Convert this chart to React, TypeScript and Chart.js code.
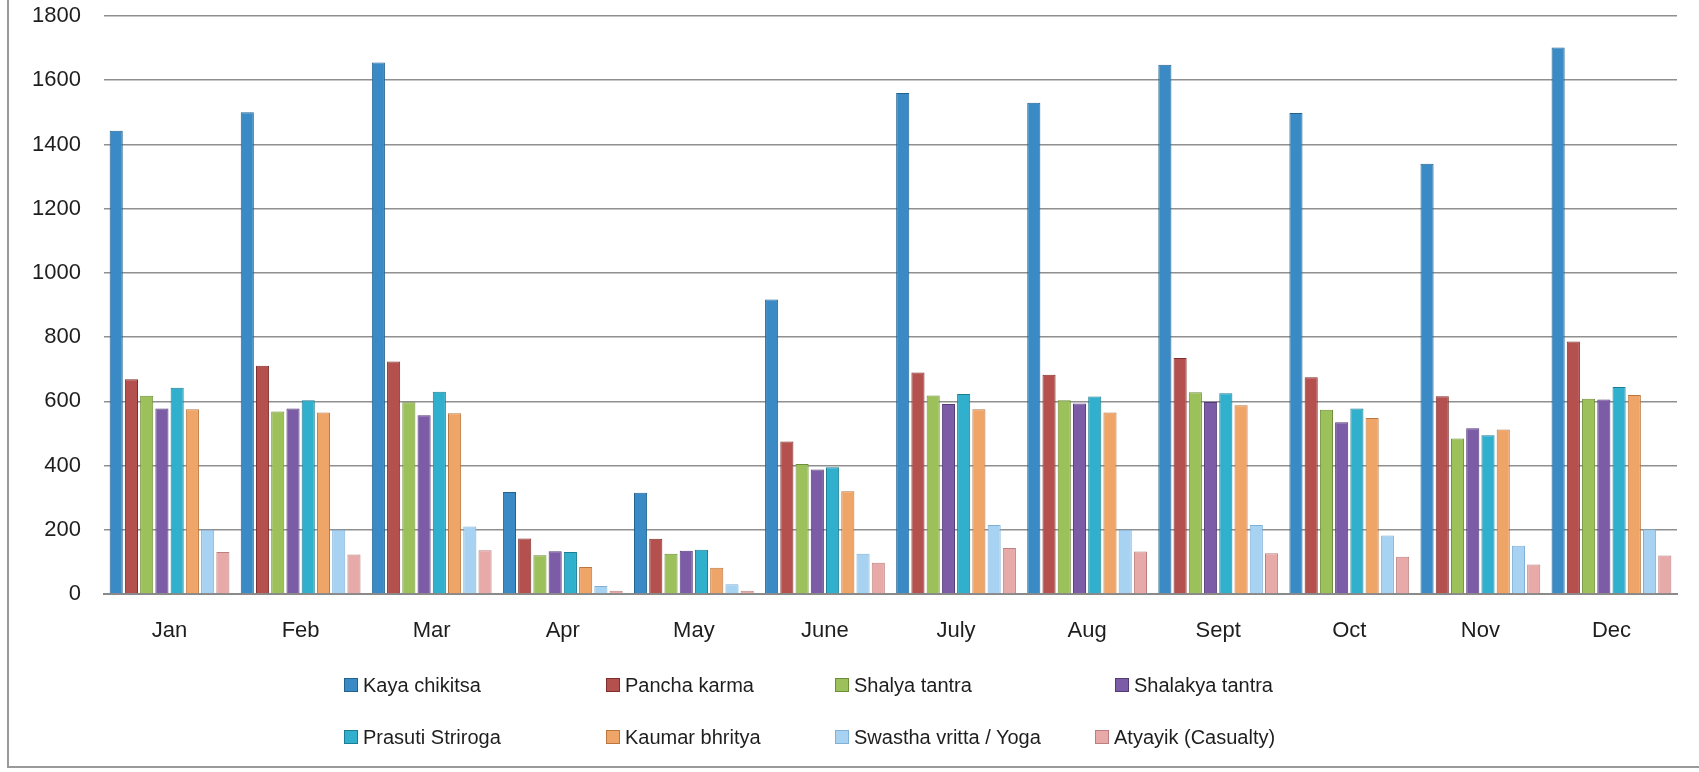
import React, { useEffect, useRef } from "react";
import { Chart, registerables } from "chart.js";

Chart.register(...registerables);

const months = ["Jan", "Feb", "Mar", "Apr", "May", "June", "July", "Aug", "Sept", "Oct", "Nov", "Dec"];
const seriesNames = [
  "Kaya chikitsa",
  "Pancha karma",
  "Shalya tantra",
  "Shalakya tantra",
  "Prasuti Striroga",
  "Kaumar bhritya",
  "Swastha vritta / Yoga",
  "Atyayik (Casualty)",
];
const kayaChikitsa = [1443, 1500, 1655, 318, 315, 917, 1560, 1530, 1648, 1498, 1340, 1702];
const panchaKarma = [669, 711, 724, 173, 172, 475, 690, 683, 735, 675, 616, 786];
const shalyaTantra = [617, 568, 597, 121, 125, 405, 618, 603, 628, 574, 484, 608];
const shalakyaTantra = [578, 578, 557, 133, 135, 388, 592, 593, 598, 535, 516, 606];
const prasutiStriroga = [642, 603, 630, 131, 138, 395, 623, 615, 625, 578, 494, 645];
const kaumarBhritya = [575, 565, 563, 84, 82, 320, 575, 565, 588, 548, 512, 620];
const swasthaVritta = [200, 200, 210, 25, 30, 125, 215, 200, 215, 182, 150, 202];
const atyayik = [131, 123, 136, 10, 10, 97, 143, 132, 127, 116, 92, 120];
const yTicks = [0, 200, 400, 600, 800, 1000, 1200, 1400, 1600, 1800];

const seriesValues = [
  kayaChikitsa,
  panchaKarma,
  shalyaTantra,
  shalakyaTantra,
  prasutiStriroga,
  kaumarBhritya,
  swasthaVritta,
  atyayik,
];
const fillColors = ["#3a8bc5", "#b4504d", "#9cc05a", "#7c5ca6", "#30b0cc", "#f0a568", "#a8d2f2", "#e8aaa9"];
const edgeColors = ["#22628f", "#7e2f2d", "#6e8d38", "#523a75", "#1a7d93", "#b9773f", "#7fb0d6", "#bb7f7f"];

// legend layout (box left x, row center y)
const legendSpots = [
  [344, 685], [606, 685], [835, 685], [1115, 685],
  [344, 737], [606, 737], [835, 737], [1095, 737],
];

const FONT = "'Liberation Sans', Arial, sans-serif";

export default function App() {
  const canvasRef = useRef<HTMLCanvasElement | null>(null);

  useEffect(() => {
    document.body.style.margin = "0";
    const canvas = canvasRef.current;
    if (!canvas) return;
    const chart = new Chart(canvas, {
      type: "bar",
      data: {
        labels: months,
        datasets: seriesNames.map((name, i) => ({
          label: name,
          data: seriesValues[i],
          backgroundColor: fillColors[i],
          borderColor: edgeColors[i],
          borderWidth: 1,
          categoryPercentage: 0.93,
          barPercentage: 0.86,
        })),
      },
      options: {
        animation: false,
        responsive: false,
        maintainAspectRatio: false,
        layout: { padding: { left: 0, right: 22, top: 16, bottom: 118 } },
        plugins: {
          legend: { display: false },
          tooltip: { enabled: false },
        },
        scales: {
          x: {
            grid: { display: false, drawTicks: false },
            border: { display: true, color: "#8a8a8a", width: 2 },
            ticks: {
              color: "#1e1e1e",
              font: { family: FONT, size: 22 },
              padding: 24,
              maxRotation: 0,
            },
            afterFit: (s: any) => {
              s.height = 60;
              s.paddingLeft = 0;
              s.paddingRight = 0;
            },
          },
          y: {
            min: 0,
            max: 1800,
            afterBuildTicks: (s: any) => {
              s.ticks = yTicks.map((v) => ({ value: v }));
            },
            grid: { color: "#8f8f8f", lineWidth: 1.5, drawTicks: false },
            border: { display: false },
            ticks: {
              color: "#1e1e1e",
              font: { family: FONT, size: 22 },
              padding: 23,
              callback: (v: any) => String(v),
            },
            afterFit: (s: any) => {
              s.width = 104;
              s.paddingTop = 0;
              s.paddingBottom = 0;
            },
          },
        },
      },
    });
    return () => chart.destroy();
  }, []);

  return (
    <div style={{ position: "relative", width: 1699, height: 772, background: "#fff", overflow: "hidden" }}>
      <canvas ref={canvasRef} width={1699} height={772} style={{ display: "block" }} />
      <div
        style={{
          position: "absolute",
          left: 7,
          top: 0,
          width: 1692,
          height: 768,
          borderLeft: "2px solid #9a9a9a",
          borderBottom: "2px solid #9a9a9a",
          boxSizing: "border-box",
          pointerEvents: "none",
        }}
      />
      {seriesNames.map((name, i) => (
        <div
          key={name}
          style={{
            position: "absolute",
            left: legendSpots[i][0],
            top: legendSpots[i][1] - 13,
            height: 26,
            display: "flex",
            alignItems: "center",
            fontFamily: FONT,
            fontSize: 20,
            color: "#1e1e1e",
            whiteSpace: "nowrap",
          }}
        >
          <span
            style={{
              display: "inline-block",
              width: 14,
              height: 14,
              background: fillColors[i],
              border: `1px solid ${edgeColors[i]}`,
              boxSizing: "border-box",
              marginRight: 5,
            }}
          />
          {name}
        </div>
      ))}
    </div>
  );
}
